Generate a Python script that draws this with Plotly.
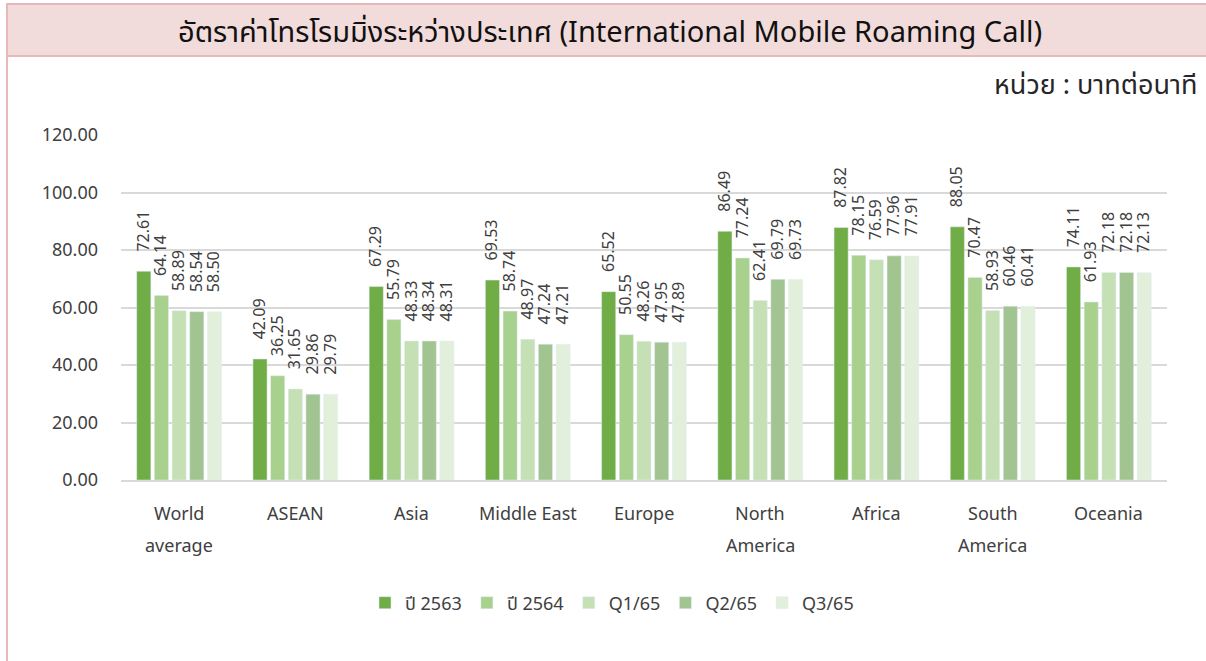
import plotly.graph_objects as go

categories = ["World average", "ASEAN", "Asia", "Middle East", "Europe",
              "North America", "Africa", "South America", "Oceania"]
category_lines = [["World", "average"], ["ASEAN"], ["Asia"], ["Middle East"], ["Europe"],
                  ["North", "America"], ["Africa"], ["South", "America"], ["Oceania"]]
series_names = ["ปี 2563", "ปี 2564", "Q1/65", "Q2/65", "Q3/65"]
y2563 = [72.61, 42.09, 67.29, 69.53, 65.52, 86.49, 87.82, 88.05, 74.11]
y2564 = [64.14, 36.25, 55.79, 58.74, 50.55, 77.24, 78.15, 70.47, 61.93]
q1_65 = [58.89, 31.65, 48.33, 48.97, 48.26, 62.41, 76.59, 58.93, 72.18]
q2_65 = [58.54, 29.86, 48.34, 47.24, 47.95, 69.79, 77.96, 60.46, 72.18]
q3_65 = [58.50, 29.79, 48.31, 47.21, 47.89, 69.73, 77.91, 60.41, 72.13]
colors = ["#70ad47", "#a9d18e", "#c5e0b4", "#a1c490", "#e2efda"]

title_text = "อัตราค่าโทรโรมมิ่งระหว่างประเทศ (International Mobile Roaming Call)"
unit_text = "หน่วย : บาทต่อนาที"

FONT = "Noto Sans Thai, Noto Sans, Open Sans, sans-serif"
PAD = "\u00a0" * 4

fig = go.Figure()
for name, vals, col in zip(series_names, [y2563, y2564, q1_65, q2_65, q3_65], colors):
    fig.add_trace(go.Bar(
        x=categories, y=vals, name=name, marker_color=col,
        texttemplate=PAD + "%{y:.2f}", textposition="outside", textangle=-90,
        constraintext="none", cliponaxis=False,
        textfont=dict(size=16, color="#404040", family=FONT),
    ))

W, H = 1206, 661
L, R, T, B = 121, 39, 135, 181
pw, ph = W - L - R, H - T - B

def px(x):
    return (x - L) / pw

def py(y):
    return (H - B - y) / ph

annotations = [
    dict(text=title_text, xref="paper", yref="paper",
         x=px(610), y=py(33), xanchor="center", yanchor="middle",
         showarrow=False, font=dict(size=29, color="#111111", family=FONT)),
    dict(text=unit_text, xref="paper", yref="paper",
         x=px(1199), y=py(85), xanchor="right", yanchor="middle",
         showarrow=False, font=dict(size=27, color="#262626", family=FONT)),
]
for cat, lines in zip(categories, category_lines):
    for i, line in enumerate(lines):
        annotations.append(dict(
            text=line, xref="x", yref="paper", x=cat, y=py(514 + 32 * i),
            xanchor="center", yanchor="middle", showarrow=False,
            font=dict(size=18, color="#404040", family=FONT)))

fig.update_layout(
    width=W, height=H,
    margin=dict(l=L, r=R, t=T, b=B),
    paper_bgcolor="white", plot_bgcolor="white",
    barmode="group", bargap=0.24, bargroupgap=0.2,
    font=dict(family=FONT, color="#404040"),
    showlegend=True,
    legend=dict(orientation="h", x=px(612), xanchor="center", y=py(603), yanchor="middle",
                font=dict(size=18, color="#404040"), itemwidth=30, traceorder="normal"),
    yaxis=dict(range=[0, 120], dtick=20, tickformat=".2f", showgrid=True,
               gridcolor="#d9d9d9", gridwidth=1.5, zeroline=False,
               tickfont=dict(size=18, color="#404040"), ticklabelstandoff=22,
               showline=False),
    xaxis=dict(showline=True, linecolor="#d9d9d9", linewidth=1.5,
               showticklabels=False, ticks=""),
    shapes=[
        dict(type="rect", xref="paper", yref="paper",
             x0=px(7), x1=px(1215), y0=py(56), y1=py(4),
             fillcolor="#f2dcdb", line=dict(color="#e6b9b8", width=2), layer="below"),
        dict(type="line", xref="paper", yref="paper",
             x0=px(7), x1=px(7), y0=py(56), y1=py(670),
             line=dict(color="#e6b9b8", width=2)),
    ],
    annotations=annotations,
)

fig.write_html("out.html", config={"displayModeBar": False},
               post_script="document.body.style.margin='0px';")
